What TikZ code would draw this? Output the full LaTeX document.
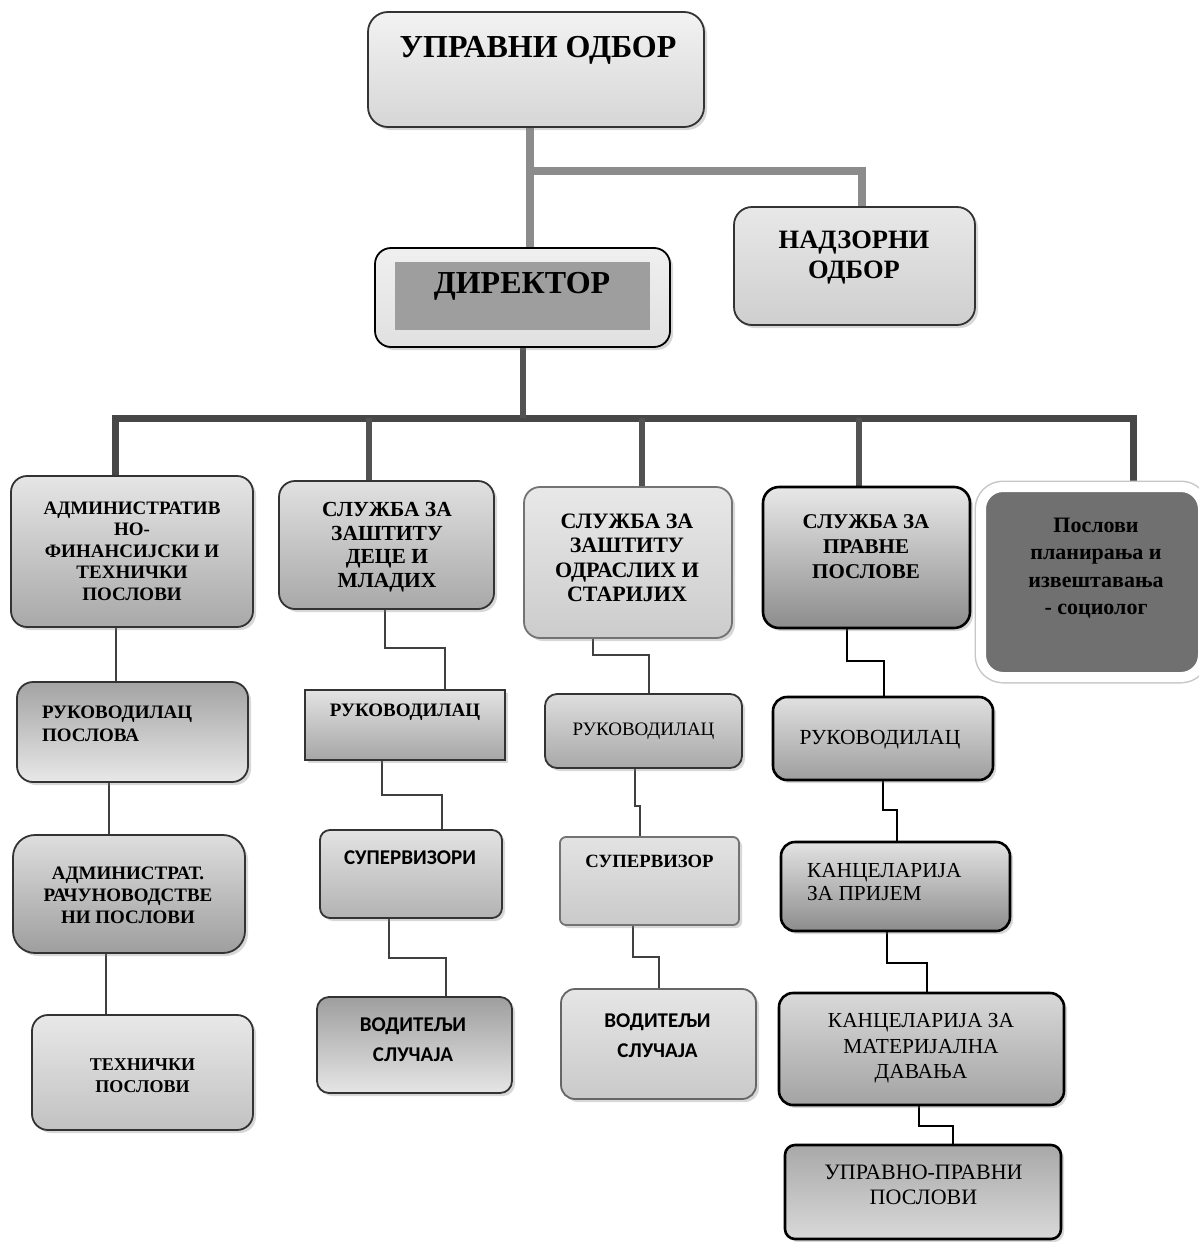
\documentclass[tikz,border=0pt]{standalone}
\usepackage{fontspec}
\setmainfont{Liberation Serif}
\newfontfamily\carl{Carlito}
\usetikzlibrary{shadows,calc}
\pgfdeclarelayer{bg}
\pgfdeclarelayer{paper}
\pgfsetlayers{paper,bg,main}
\tikzset{
  bx/.style={draw=black!80, line width=1.8pt, rounded corners=16pt, inner sep=0pt, outer sep=0pt,
    drop shadow={shadow xshift=3pt, shadow yshift=-3pt, opacity=0.3}},
  bxk/.style={bx, draw=black, line width=2.6pt},
  tx/.style={inner sep=0pt, outer sep=0pt, align=center, text=black},
  topln/.style={draw=black!45, line width=8pt},
  bus/.style={draw=black!72, line width=7pt},
  dropln/.style={draw=black!68, line width=6pt},
  thinln/.style={draw=black!75, line width=1.4pt},
  blkln/.style={draw=black, line width=2.6pt}
}
\begin{document}
\begin{tikzpicture}[x=1pt,y=-1pt]
\useasboundingbox (0,0) rectangle (1199,1242);
\begin{pgfonlayer}{paper}
\fill[white] (0,0) rectangle (1199,1242);
\end{pgfonlayer}

% ---------- top level ----------
\node[bx, rounded corners=20pt, minimum width=336pt, minimum height=115pt, top color=black!5, bottom color=black!16] (U) at (536,69.5) {};
\node[tx, font=\fontsize{32}{36}\selectfont\bfseries] (Ut) at (538,50) {УПРАВНИ ОДБОР};

\node[bx, rounded corners=18pt, minimum width=241pt, minimum height=118pt, top color=black!9, bottom color=black!19] (N) at (854.5,266) {};
\node[tx, font=\fontsize{26.5}{30}\selectfont\bfseries] (Nt) at (854,258) {НАДЗОРНИ\\ОДБОР};

\node[bx, draw=black, minimum width=295pt, minimum height=99pt, top color=black!6, bottom color=black!12] (D) at (522.5,297.5) {};
\node[fill=black!38, inner sep=0pt, minimum width=255pt, minimum height=68pt] (Di) at (522.5,296) {};
\node[tx, font=\fontsize{32}{36}\selectfont\bfseries] (Dt) at (522,286) {ДИРЕКТОР};

% ---------- second level ----------
\node[bx, minimum width=242pt, minimum height=151pt, top color=black!10, bottom color=black!34] (B1) at (132,551.5) {};
\node[tx, font=\fontsize{19}{21.5}\selectfont\bfseries] (B1t) at (132,551) {АДМИНИСТРАТИВ\\НО-\\ФИНАНСИЈСКИ И\\ТЕХНИЧКИ\\ПОСЛОВИ};

\node[bx, minimum width=215pt, minimum height=128pt, top color=black!12, bottom color=black!34] (B2) at (386.5,545) {};
\node[tx, font=\fontsize{21.5}{23.5}\selectfont\bfseries] (B2t) at (387,547) {СЛУЖБА ЗА\\ЗАШТИТУ\\ДЕЦЕ И\\МЛАДИХ};

\node[bx, draw=black!55, minimum width=208pt, minimum height=151pt, top color=black!9, bottom color=black!20] (B3) at (628,562.5) {};
\node[tx, font=\fontsize{22}{24.5}\selectfont\bfseries] (B3t) at (627,558) {СЛУЖБА ЗА\\ЗАШТИТУ\\ОДРАСЛИХ И\\СТАРИЈИХ};

\node[bxk, minimum width=207pt, minimum height=141pt, top color=black!9, bottom color=black!45] (B4) at (866.5,557.5) {};
\node[tx, font=\fontsize{21}{25}\selectfont\bfseries] (B4t) at (866,547) {СЛУЖБА ЗА\\ПРАВНЕ\\ПОСЛОВЕ};

\node[inner sep=0pt, outer sep=0pt, rounded corners=22pt, minimum width=222pt, minimum height=190pt,
  fill=black!56, draw=white, line width=10pt,
  preaction={draw=black!22, line width=13pt},
  drop shadow={shadow xshift=3pt, shadow yshift=-3pt, opacity=0.25}] (B5) at (1092,582) {};
\node[tx, font=\fontsize{22}{27.5}\selectfont\bfseries] (B5t) at (1096,568) {Послови\\планирања и\\извештавања\\- социолог};

% ---------- column 1 ----------
\node[bx, minimum width=231pt, minimum height=100pt, top color=black!36, bottom color=black!9] (C1a) at (132.5,732) {};
\node[tx, anchor=west, align=left, font=\fontsize{19}{23}\selectfont\bfseries] (C1at) at (42,723.5) {РУКОВОДИЛАЦ\\ПОСЛОВА};

\node[bx, rounded corners=22pt, minimum width=232pt, minimum height=118pt, top color=black!13, bottom color=black!38] (C1b) at (129,894) {};
\node[tx, font=\fontsize{19}{22}\selectfont\bfseries] (C1bt) at (128,895) {АДМИНИСТРАТ.\\РАЧУНОВОДСТВЕ\\НИ ПОСЛОВИ};

\node[bx, minimum width=221pt, minimum height=115pt, top color=black!9, bottom color=black!24] (C1c) at (142.5,1072.5) {};
\node[tx, font=\fontsize{18}{22}\selectfont\bfseries] (C1ct) at (142.5,1076) {ТЕХНИЧКИ\\ПОСЛОВИ};

% ---------- column 2 ----------
\node[bx, rounded corners=0pt, minimum width=200pt, minimum height=70pt, top color=black!11, bottom color=black!35] (C2a) at (405,725) {};
\node[tx, font=\fontsize{19}{22}\selectfont\bfseries] (C2at) at (405,712) {РУКОВОДИЛАЦ};

\node[bx, rounded corners=10pt, minimum width=182pt, minimum height=88pt, top color=black!11, bottom color=black!30] (C2b) at (411,874) {};
\node[tx, font=\carl\fontsize{21}{24}\selectfont\bfseries] (C2bt) at (410,858) {СУПЕРВИЗОРИ};

\node[bx, rounded corners=12pt, minimum width=195pt, minimum height=96pt, top color=black!38, bottom color=black!10] (C2c) at (414.5,1045) {};
\node[tx, font=\carl\fontsize{21}{30}\selectfont\bfseries] (C2ct) at (413,1040) {ВОДИТЕЉИ\\СЛУЧАЈА};

% ---------- column 3 ----------
\node[bx, rounded corners=12pt, minimum width=197pt, minimum height=74pt, top color=black!13, bottom color=black!34] (C3a) at (643.5,731) {};
\node[tx, font=\fontsize{19}{22}\selectfont] (C3at) at (643.5,731) {РУКОВОДИЛАЦ};

\node[bx, draw=black!55, rounded corners=6pt, minimum width=179pt, minimum height=88pt, top color=black!11, bottom color=black!21] (C3b) at (649.5,881) {};
\node[tx, font=\fontsize{18.7}{22}\selectfont\bfseries] (C3bt) at (649.5,861) {СУПЕРВИЗОР};

\node[bx, draw=black!60, rounded corners=14pt, minimum width=195pt, minimum height=110pt, top color=black!10, bottom color=black!21] (C3c) at (658.5,1044) {};
\node[tx, font=\carl\fontsize{21}{30}\selectfont\bfseries] (C3ct) at (657.5,1036) {ВОДИТЕЉИ\\СЛУЧАЈА};

% ---------- column 4 ----------
\node[bxk, rounded corners=14pt, minimum width=220pt, minimum height=83pt, top color=black!12, bottom color=black!38] (C4a) at (883,738.5) {};
\node[tx, font=\fontsize{21.5}{25}\selectfont] (C4at) at (880,740) {РУКОВОДИЛАЦ};

\node[bxk, rounded corners=14pt, minimum width=229pt, minimum height=89pt, top color=black!11, bottom color=black!45] (C4b) at (895.5,886.5) {};
\node[tx, anchor=west, align=left, font=\fontsize{21.4}{22.5}\selectfont] (C4bt) at (807,882) {КАНЦЕЛАРИЈА\\ЗА ПРИЈЕМ};

\node[bxk, rounded corners=14pt, minimum width=285pt, minimum height=112pt, top color=black!15, bottom color=black!36] (C4c) at (921.5,1049) {};
\node[tx, font=\fontsize{21.4}{25.5}\selectfont] (C4ct) at (921,1048.5) {КАНЦЕЛАРИЈА ЗА\\МАТЕРИЈАЛНА\\ДАВАЊА};

\node[bxk, rounded corners=10pt, minimum width=276pt, minimum height=94pt, top color=black!34, bottom color=black!15] (C4d) at (923,1192) {};
\node[tx, font=\fontsize{22}{25}\selectfont] (C4dt) at (923.5,1184.5) {УПРАВНО-ПРАВНИ\\ПОСЛОВИ};

% ---------- connectors ----------
\begin{pgfonlayer}{bg}
\coordinate (bus) at (523,418);
\draw[topln] ([xshift=-6pt]U.south) -- ([xshift=7.5pt]D.north);
\draw[topln] ([xshift=-6pt]U.south) -- ++(0,44) -| ([xshift=7.5pt]N.north);

\draw[bus] ([xshift=-17pt]B1.north) -- ([xshift=-17pt]B1.north |- bus) -| ([xshift=41pt]B5.north);
\draw[dropln] (D.south) -- (D.south |- bus);
\draw[dropln] ([xshift=-17.5pt]B2.north) -- ([xshift=-17.5pt]B2.north |- bus);
\draw[dropln] ([xshift=14pt]B3.north) -- ([xshift=14pt]B3.north |- bus);
\draw[dropln] ([xshift=-7.5pt]B4.north) -- ([xshift=-7.5pt]B4.north |- bus);

% column 1
\draw[thinln] ([xshift=-16pt]B1.south) -- ([xshift=-16.5pt]C1a.north);
\draw[thinln] ([xshift=-23.5pt]C1a.south) -- ([xshift=-20pt]C1b.north);
\draw[thinln] ([xshift=-23pt]C1b.south) -- ([xshift=-36.5pt]C1c.north);
% column 2
\draw[thinln] ([xshift=-1.5pt]B2.south) -- ++(0,39) -| ([xshift=40pt]C2a.north);
\draw[thinln] ([xshift=-23pt]C2a.south) -- ++(0,35) -| ([xshift=31pt]C2b.north);
\draw[thinln] ([xshift=-22pt]C2b.south) -- ++(0,40) -| ([xshift=31.5pt]C2c.north);
% column 3
\draw[thinln] ([xshift=-35pt]B3.south) -- ++(0,17) -| ([xshift=5.5pt]C3a.north);
\draw[thinln] ([xshift=-8.5pt]C3a.south) -- ++(0,38) -| ([xshift=-9.5pt]C3b.north);
\draw[thinln] ([xshift=-16.5pt]C3b.south) -- ++(0,32) -| ([xshift=0.5pt]C3c.north);
% column 4
\draw[blkln] ([xshift=-19.5pt]B4.south) -- ++(0,33) -| ([xshift=1pt]C4a.north);
\draw[blkln] (C4a.south) -- ++(0,30) -| ([xshift=1.5pt]C4b.north);
\draw[blkln] ([xshift=-8.5pt]C4b.south) -- ++(0,32) -| ([xshift=5.5pt]C4c.north);
\draw[blkln] ([xshift=-2.5pt]C4c.south) -- ++(0,21) -| ([xshift=30pt]C4d.north);
\end{pgfonlayer}
\end{tikzpicture}
\end{document}
